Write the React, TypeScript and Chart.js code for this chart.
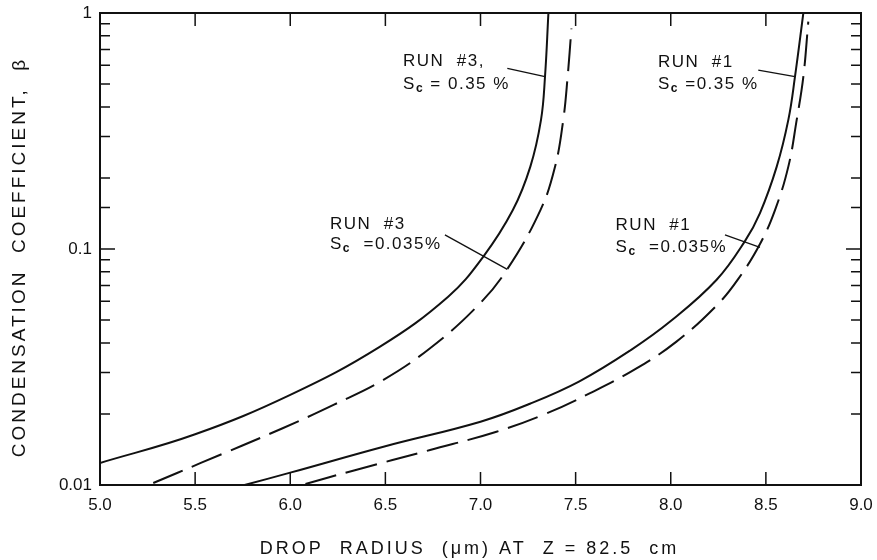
import React, { useEffect, useRef } from "react";
import { Chart, registerables } from "chart.js";

Chart.register(...registerables);

// Run #3, Sc = 0.35 % (solid)
const run3HighX = [5.0, 5.5, 6.0, 6.47, 6.83, 7.015, 7.17, 7.262, 7.318, 7.339, 7.357];
const run3HighBeta = [0.0124, 0.0164, 0.0241, 0.0385, 0.0628, 0.0929, 0.1462, 0.2234, 0.3524, 0.537, 1.0];

// Run #3, Sc = 0.035 % (dashed)
const run3LowX = [5.28, 5.53, 5.96, 6.23, 6.49, 6.735, 6.98, 7.138, 7.315, 7.392, 7.435, 7.458, 7.478];
const run3LowBeta = [0.0102, 0.0124, 0.0174, 0.0219, 0.0279, 0.038, 0.0569, 0.0815, 0.1462, 0.2234, 0.3524, 0.537, 0.86];

// Run #1, Sc = 0.35 % (solid)
const run1HighX = [5.76, 6.0, 6.49, 7.0, 7.26, 7.52, 7.79, 8.0, 8.24, 8.39, 8.469, 8.557, 8.618, 8.653, 8.697];
const run1HighBeta = [0.01, 0.01128, 0.01453, 0.01855, 0.0221, 0.0275, 0.0373, 0.0495, 0.0739, 0.108, 0.142, 0.2234, 0.3524, 0.537, 1.0];

// Run #1, Sc = 0.035 % (dashed)
const run1LowX = [6.08, 6.33, 6.735, 7.084, 7.347, 7.576, 7.82, 8.03, 8.24, 8.355, 8.469, 8.548, 8.618, 8.662, 8.697, 8.723];
const run1LowBeta = [0.0101, 0.0115, 0.01407, 0.01682, 0.0201, 0.0245, 0.0312, 0.0405, 0.0575, 0.0747, 0.105, 0.1462, 0.2234, 0.3524, 0.537, 0.919];

const yLabelledTicks = [0.01, 0.1, 1];
const xAxisTitle = "DROP  RADIUS  (\u03bcm) AT  Z = 82.5  cm";
const yAxisTitle = "CONDENSATION  COEFFICIENT,  \u03b2";

const noteRuns = ["RUN  #3,", "RUN  #3", "RUN  #1", "RUN  #1"];
const noteSc = [" = 0.35 %", "  =0.035%", " =0.35 %", "  =0.035%"];

// annotation placement (data coordinates)
const notePlacement = [
  { x: 6.593, yRun: 0.626, ySc: 0.5, from: [7.141, 0.583], to: [7.339, 0.537] },
  { x: 6.209, yRun: 0.1276, ySc: 0.105, from: [6.813, 0.1148], to: [7.141, 0.082] },
  { x: 7.933, yRun: 0.617, ySc: 0.5, from: [8.46, 0.573], to: [8.653, 0.537] },
  { x: 7.71, yRun: 0.1264, ySc: 0.102, from: [8.285, 0.1148], to: [8.469, 0.1017] },
];

const FONT = "'Liberation Sans', Arial, sans-serif";
const INK = "#111";

const toPoints = (xs: number[], ys: number[]) => xs.map((x, i) => ({ x, y: ys[i] }));

const framePlugin = {
  id: "frameTicks",
  afterDatasetsDraw(chart: any) {
    const { ctx, chartArea: a, scales } = chart;
    const xs = scales.x;
    const ys = scales.y;
    ctx.save();
    ctx.strokeStyle = INK;
    ctx.lineWidth = 2;
    ctx.strokeRect(a.left, a.top, a.right - a.left, a.bottom - a.top);
    ctx.lineWidth = 1.5;
    ctx.beginPath();
    xs.ticks.forEach((t: any) => {
      if (t.value <= xs.min + 1e-9 || t.value >= xs.max - 1e-9) return;
      const px = xs.getPixelForValue(t.value);
      ctx.moveTo(px, a.bottom);
      ctx.lineTo(px, a.bottom - 13);
      ctx.moveTo(px, a.top);
      ctx.lineTo(px, a.top + 13);
    });
    ys.ticks.forEach((t: any) => {
      if (t.value <= ys.min * 1.0001 || t.value >= ys.max * 0.9999) return;
      const py = ys.getPixelForValue(t.value);
      const major = yLabelledTicks.some((v) => Math.abs(v - t.value) < 1e-9);
      const len = major ? 15 : 10;
      ctx.moveTo(a.left, py);
      ctx.lineTo(a.left + len, py);
      ctx.moveTo(a.right, py);
      ctx.lineTo(a.right - len, py);
    });
    ctx.stroke();
    ctx.restore();
  },
};

function drawSc(ctx: any, x: number, y: number, rest: string) {
  ctx.font = `17px ${FONT}`;
  ctx.fillText("S", x, y);
  let w = ctx.measureText("S").width;
  ctx.font = `bold 12px ${FONT}`;
  ctx.fillText("c", x + w, y + 5);
  w += ctx.measureText("c").width;
  ctx.font = `17px ${FONT}`;
  ctx.fillText(rest, x + w, y);
}

const notesPlugin = {
  id: "notes",
  afterDatasetsDraw(chart: any) {
    const { ctx, scales } = chart;
    const xs = scales.x;
    const ys = scales.y;
    ctx.save();
    ctx.fillStyle = INK;
    ctx.strokeStyle = INK;
    ctx.lineWidth = 1.3;
    ctx.textBaseline = "middle";
    ctx.textAlign = "left";
    (ctx as any).letterSpacing = "1.5px";
    notePlacement.forEach((n, i) => {
      const px = xs.getPixelForValue(n.x);
      ctx.font = `17px ${FONT}`;
      ctx.fillText(noteRuns[i], px, ys.getPixelForValue(n.yRun));
      drawSc(ctx, px, ys.getPixelForValue(n.ySc), noteSc[i]);
      ctx.beginPath();
      ctx.moveTo(xs.getPixelForValue(n.from[0]), ys.getPixelForValue(n.from[1]));
      ctx.lineTo(xs.getPixelForValue(n.to[0]), ys.getPixelForValue(n.to[1]));
      ctx.stroke();
    });
    ctx.restore();
  },
};

const titlesPlugin = {
  id: "titles",
  afterDraw(chart: any) {
    const { ctx, chartArea: a } = chart;
    ctx.save();
    ctx.fillStyle = INK;
    ctx.textAlign = "center";
    ctx.textBaseline = "middle";
    ctx.font = `18px ${FONT}`;
    (ctx as any).letterSpacing = "3px";
    ctx.fillText(xAxisTitle, (a.left + a.right) / 2 - 11, chart.height - 11);
    ctx.translate(20, (a.top + a.bottom) / 2 + 8);
    ctx.rotate(-Math.PI / 2);
    ctx.font = `19px ${FONT}`;
    (ctx as any).letterSpacing = "3px";
    ctx.fillText(yAxisTitle, 0, 0);
    ctx.restore();
  },
};

export default function App() {
  const ref = useRef<HTMLCanvasElement | null>(null);
  useEffect(() => {
    if (!ref.current) return;
    const lineStyle = {
      borderColor: INK,
      borderWidth: 2,
      pointRadius: 0,
      fill: false,
      tension: 0.4,
    };
    const chart = new Chart(ref.current, {
      type: "line",
      data: {
        datasets: [
          { label: "Run #3, Sc = 0.35 %", data: toPoints(run3HighX, run3HighBeta), ...lineStyle },
          { label: "Run #3, Sc = 0.035 %", data: toPoints(run3LowX, run3LowBeta), ...lineStyle, borderDash: [32, 10] },
          { label: "Run #1, Sc = 0.35 %", data: toPoints(run1HighX, run1HighBeta), ...lineStyle },
          { label: "Run #1, Sc = 0.035 %", data: toPoints(run1LowX, run1LowBeta), ...lineStyle, borderDash: [32, 10] },
        ],
      },
      options: {
        responsive: false,
        animation: false,
        layout: { padding: { left: 0, top: 13, right: 16, bottom: 0 } },
        plugins: { legend: { display: false }, tooltip: { enabled: false } },
        scales: {
          x: {
            type: "linear",
            min: 5,
            max: 9,
            grid: { display: false, drawTicks: false },
            border: { display: false },
            ticks: {
              stepSize: 0.5,
              color: INK,
              font: { family: FONT, size: 17 },
              padding: 10,
              maxRotation: 0,
              autoSkip: false,
              callback: (v: any) => Number(v).toFixed(1),
            },
            afterFit: (s: any) => {
              s.height = 75;
              s.paddingLeft = 0;
              s.paddingRight = 0;
            },
          },
          y: {
            type: "logarithmic",
            min: 0.01,
            max: 1,
            grid: { display: false, drawTicks: false },
            border: { display: false },
            ticks: {
              color: INK,
              font: { family: FONT, size: 17 },
              padding: 8,
              autoSkip: false,
              callback: (v: any) => {
                const n = Number(v);
                if (Math.abs(n - 0.01) < 1e-9) return "0.01";
                if (Math.abs(n - 0.1) < 1e-9) return "0.1";
                if (Math.abs(n - 1) < 1e-9) return "1";
                return "";
              },
            },
            afterFit: (s: any) => {
              s.width = 100;
              s.paddingTop = 0;
              s.paddingBottom = 0;
            },
          },
        },
      },
      plugins: [framePlugin, notesPlugin, titlesPlugin],
    });
    return () => chart.destroy();
  }, []);
  return (
    <div style={{ position: "fixed", left: 0, top: 0, width: 877, height: 560, background: "#fff" }}>
      <canvas ref={ref} width={877} height={560} />
    </div>
  );
}
